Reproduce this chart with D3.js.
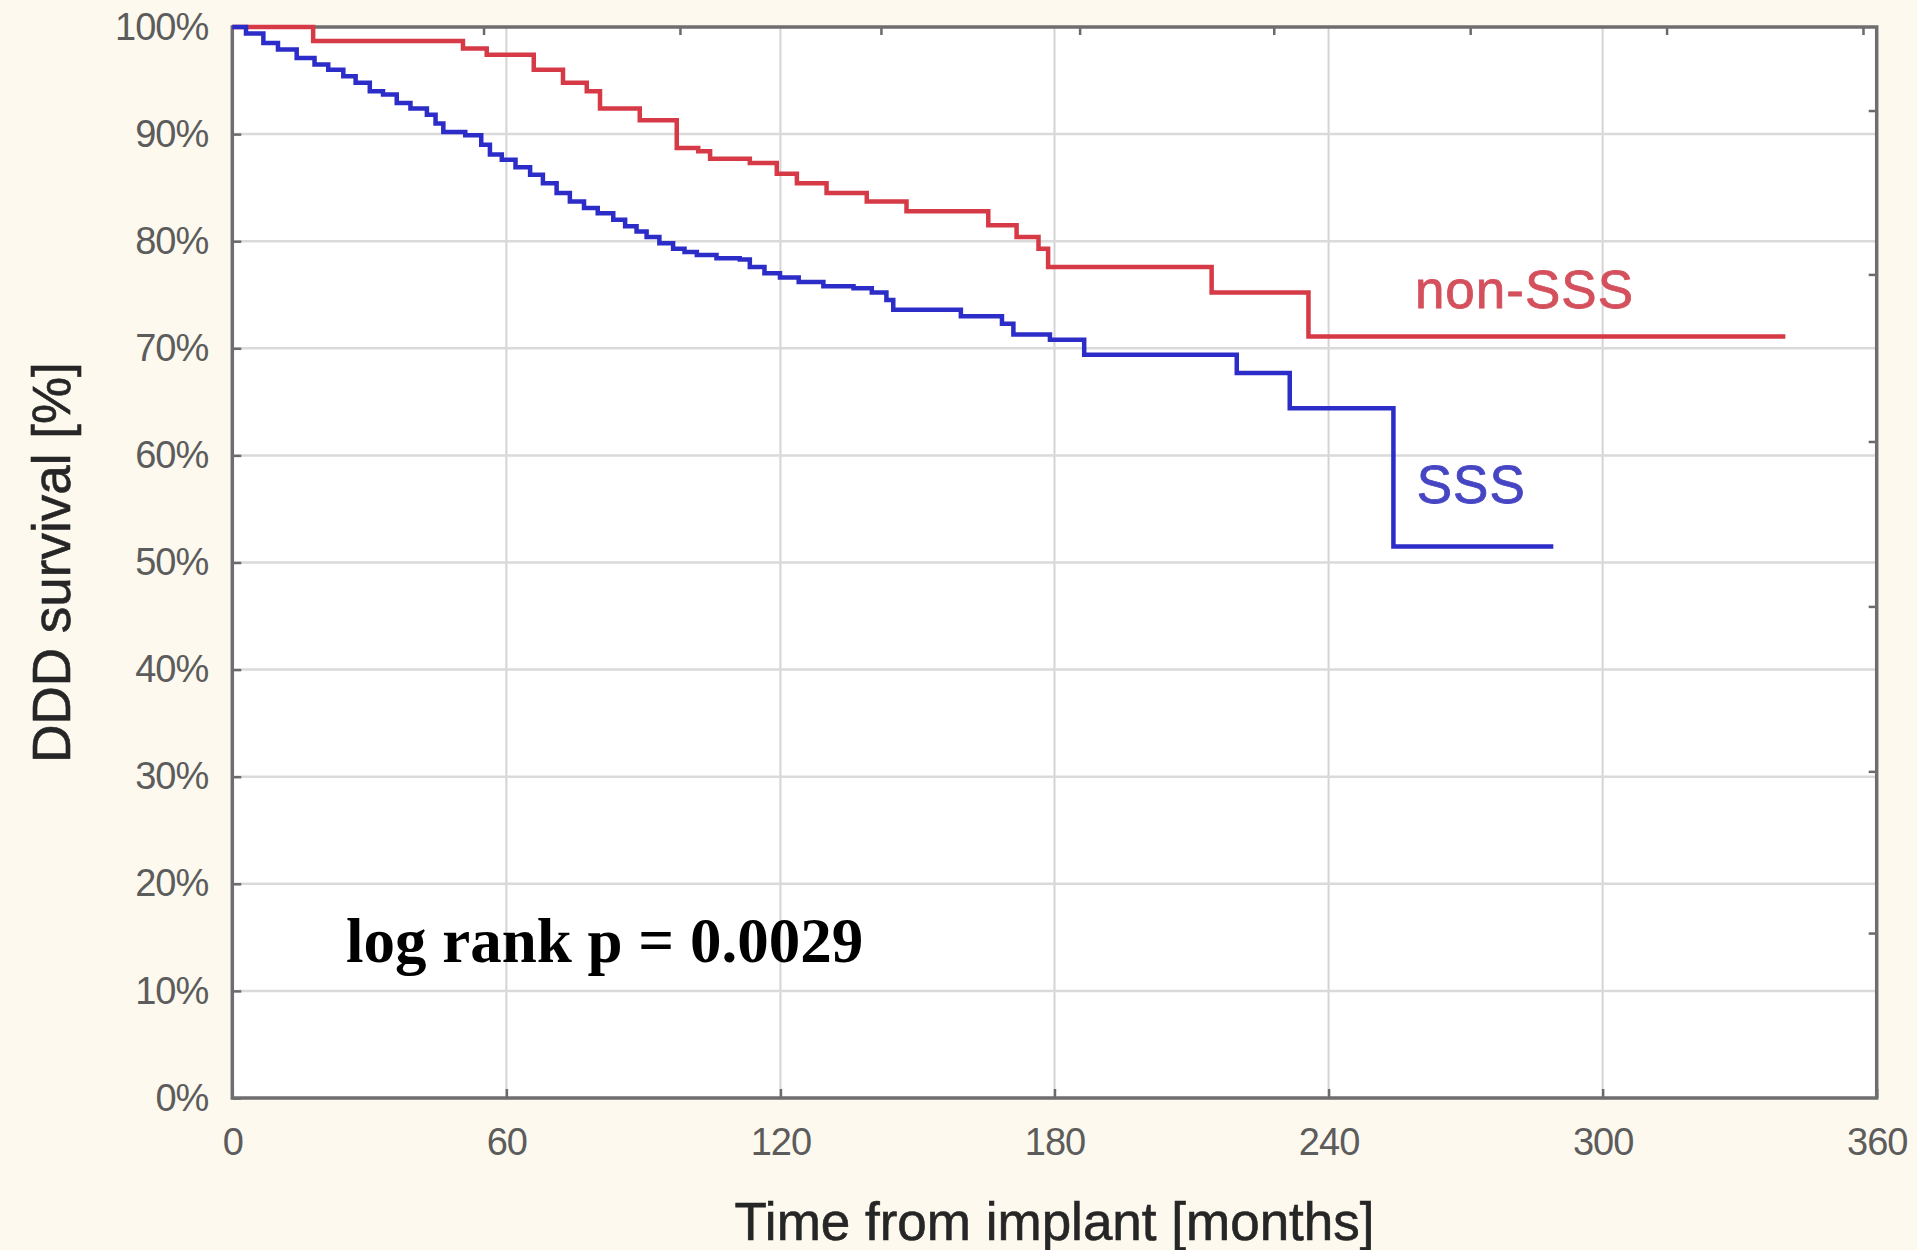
<!DOCTYPE html>
<html>
<head>
<meta charset="utf-8">
<script src="https://cdn.jsdelivr.net/npm/d3@7"></script>
<style>
  body { margin: 0; background: #fdf9ee; }
  svg { display: block; }
  .axis text { font-family: "Liberation Sans", Arial, sans-serif; font-size: 38px; fill: #5c5c5c; letter-spacing: -1px; }
  .axis-title { font-family: "Liberation Sans", Arial, sans-serif; font-size: 53px; fill: #262626; stroke: #262626; stroke-width: 0.6; }
</style>
</head>
<body>
<div id="chart"></div>
<script>
// tick values
const monthTicks = [0, 60, 120, 180, 240, 300, 360];
const pctTicks = [0, 10, 20, 30, 40, 50, 60, 70, 80, 90, 100];
// little extra ticks on the top / right frame
const topTicks = [55, 98, 142, 185.5, 228, 271, 314, 357];
const rightTicks = [15.4, 30.5, 45.9, 61.3, 76.9, 92.2];

// non-SSS (red) Kaplan-Meier steps, months / % surviving
const nonSSSTime = [0, 17.7, 50.5, 55.7, 66, 72.4, 77.6, 80.5, 89.2, 97.3, 102, 104.6, 113.3, 119.2, 123.6, 130.1, 138.9, 147.6, 165.5, 171.7, 176.5, 178.6, 214.4, 235.6, 340];
const nonSSSSurv = [100, 98.7, 98.0, 97.4, 96.0, 94.8, 94.0, 92.4, 91.3, 88.7, 88.4, 87.7, 87.3, 86.3, 85.4, 84.5, 83.7, 82.8, 81.5, 80.4, 79.3, 77.6, 75.2, 71.1, 71.1];

// SSS (blue)
const sssTime = [0, 3, 6.8, 10, 14.1, 18, 21, 24.3, 27, 30.1, 33, 36, 39, 42.6, 44.5, 46.2, 51, 54.5, 56.4, 59, 62, 65.2, 68, 71, 73.9, 77, 80, 83.4, 86, 88.5, 90.7, 93.5, 96.5, 99, 101.7, 106, 111.1, 113.3, 116.5, 119.9, 124, 129.4, 136, 140, 143.2, 144.7, 159.5, 168.5, 171, 179, 186.5, 219.9, 231.5, 254.2, 289.2];
const sssSurv = [100, 99.4, 98.5, 97.9, 97.1, 96.5, 96.0, 95.4, 94.8, 94.0, 93.7, 92.9, 92.4, 91.8, 91.0, 90.2, 89.9, 89.0, 88.1, 87.6, 86.9, 86.2, 85.4, 84.5, 83.7, 83.1, 82.6, 82.0, 81.4, 80.9, 80.4, 79.8, 79.3, 79.0, 78.7, 78.4, 78.3, 77.6, 77.0, 76.6, 76.2, 75.8, 75.6, 75.2, 74.5, 73.6, 73.0, 72.3, 71.3, 70.8, 69.4, 67.7, 64.4, 51.5, 51.5];

// text annotations: [month, %]
const seriesNames = ["non-SSS", "SSS"];
const labelAt = [[258.9, 73.8], [259.3, 55.6]];
const pText = "log rank p = 0.0029";
const pAt = [24.9, 12.7];

const width = 1917,
  height = 1250,
  margin = { top: 27, right: 40.3, bottom: 152, left: 232.3 };

const svg = d3.select("#chart")
  .append("svg")
  .attr("width", width)
  .attr("height", height);

const xScale = d3.scaleLinear()
  .domain([0, 360])
  .range([margin.left, width - margin.right]);

const yScale = d3.scaleLinear()
  .domain([0, 100])
  .range([height - margin.bottom, margin.top]);

// plot area
svg.append("rect")
  .attr("x", xScale(0))
  .attr("y", yScale(100))
  .attr("width", xScale(360) - xScale(0))
  .attr("height", yScale(0) - yScale(100))
  .attr("fill", "#ffffff");

// grid
svg.append("g")
  .selectAll("line")
  .data(monthTicks.slice(1, -1))
  .join("line")
  .attr("x1", d => xScale(d))
  .attr("x2", d => xScale(d))
  .attr("y1", yScale(0))
  .attr("y2", yScale(100))
  .attr("stroke", "#d4d4d4")
  .attr("stroke-width", 2);

svg.append("g")
  .selectAll("line")
  .data(pctTicks.slice(1, -1))
  .join("line")
  .attr("x1", xScale(0))
  .attr("x2", xScale(360))
  .attr("y1", d => yScale(d))
  .attr("y2", d => yScale(d))
  .attr("stroke", "#dadada")
  .attr("stroke-width", 2.5);

// axes
const xAxis = d3.axisBottom(xScale)
  .tickValues(monthTicks)
  .tickSizeInner(-9)
  .tickSizeOuter(0)
  .tickPadding(30);

const yAxis = d3.axisLeft(yScale)
  .tickValues(pctTicks)
  .tickSizeInner(-9)
  .tickSizeOuter(0)
  .tickPadding(24)
  .tickFormat(d => d + "%");

svg.append("g")
  .attr("class", "axis x-axis")
  .attr("transform", `translate(0,${yScale(0)})`)
  .call(xAxis);

svg.append("g")
  .attr("class", "axis y-axis")
  .attr("transform", `translate(${xScale(0)},0)`)
  .call(yAxis);

svg.append("g")
  .attr("class", "axis top-axis")
  .attr("transform", `translate(0,${yScale(100)})`)
  .call(d3.axisTop(xScale).tickValues(topTicks.filter(d => d < 360)).tickSizeInner(-8).tickSizeOuter(0).tickFormat(""));

svg.append("g")
  .attr("class", "axis right-axis")
  .attr("transform", `translate(${xScale(360)},0)`)
  .call(d3.axisRight(yScale).tickValues(rightTicks).tickSizeInner(-8).tickSizeOuter(0).tickFormat(""));

svg.selectAll(".axis .domain").remove();
svg.selectAll(".axis .tick line")
  .attr("stroke", "#6a6a6a")
  .attr("stroke-width", 2.5);

// frame
svg.append("rect")
  .attr("x", xScale(0))
  .attr("y", yScale(100))
  .attr("width", xScale(360) - xScale(0))
  .attr("height", yScale(0) - yScale(100))
  .attr("fill", "none")
  .attr("stroke", "#6e6e6e")
  .attr("stroke-width", 3.5);

// curves
const line = d3.line()
  .x(d => xScale(d[0]))
  .y(d => yScale(d[1]))
  .curve(d3.curveStepAfter);

const curves = [
  { name: seriesNames[0], pts: d3.zip(nonSSSTime, nonSSSSurv), color: "#d63a47" },
  { name: seriesNames[1], pts: d3.zip(sssTime, sssSurv), color: "#2c2cc8" }
];

svg.append("g")
  .selectAll("path")
  .data(curves)
  .join("path")
  .attr("d", d => line(d.pts))
  .attr("fill", "none")
  .attr("stroke", d => d.color)
  .attr("stroke-width", 4.5);

// series labels
svg.append("g")
  .selectAll("text")
  .data(curves)
  .join("text")
  .attr("x", (d, i) => xScale(labelAt[i][0]))
  .attr("y", (d, i) => yScale(labelAt[i][1]))
  .attr("font-family", "'Liberation Sans', Arial, sans-serif")
  .attr("font-size", 53)
  .attr("letter-spacing", 1)
  .attr("fill", (d, i) => i === 0 ? "#d4505c" : "#4646c4")
  .attr("stroke", (d, i) => i === 0 ? "#d4505c" : "#4646c4")
  .attr("stroke-width", 0.8)
  .text(d => d.name);

// log rank
svg.append("text")
  .attr("x", xScale(pAt[0]))
  .attr("y", yScale(pAt[1]))
  .attr("font-family", "'Liberation Serif', 'Times New Roman', serif")
  .attr("font-weight", "bold")
  .attr("font-size", 63)
  .attr("fill", "#000")
  .text(pText);

// axis titles
svg.append("text")
  .attr("class", "axis-title")
  .attr("x", (xScale(0) + xScale(360)) / 2)
  .attr("y", 1240)
  .attr("text-anchor", "middle")
  .text("Time from implant [months]");

svg.append("text")
  .attr("class", "axis-title")
  .attr("transform", `translate(70,${(yScale(0) + yScale(100)) / 2}) rotate(-90)`)
  .attr("text-anchor", "middle")
  .text("DDD survival [%]");
</script>
</body>
</html>
